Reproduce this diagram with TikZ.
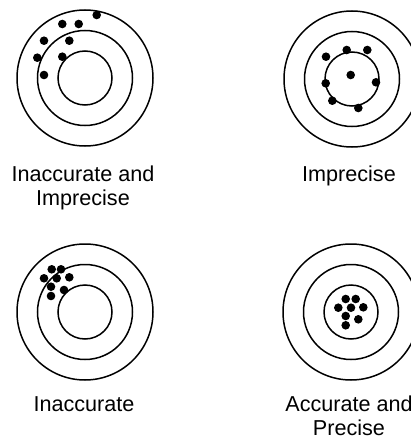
\documentclass[tikz,border=0pt]{standalone}
\usepackage{fontspec}
\setmainfont{Liberation Sans}
\begin{document}
\begin{tikzpicture}[x=1pt,y=-1pt,
  ring/.style={line width=1.5pt},
  hole/.style={fill=black},
  lbl/.style={align=center,anchor=base,inner sep=0pt,font=\fontsize{21.6}{24}\selectfont}]
\useasboundingbox (0,0) rectangle (410,441);
% targets
\foreach \cx/\cy in {85/78, 352/79, 85/312, 351/312}{
  \draw[ring] (\cx,\cy) circle (27);
  \draw[ring] (\cx,\cy) circle (47.5);
  \draw[ring] (\cx,\cy) circle (68);
}
% top-left: inaccurate and imprecise
\foreach \p in {(96.7,15),(62.3,24),(78.7,24),(44,40.7),(69.3,40.7),(37.3,57.7),(62.3,56.7),(44,75)}
  \fill[hole] \p circle (4.3);
% top-right: imprecise
\foreach \p in {(326,56.7),(346.7,50),(367.3,50),(350.7,75),(325.7,83.3),(376,82.3),(332.3,100.7),(358.3,108)}
  \fill[hole] \p circle (4.3);
% bottom-left: inaccurate
\foreach \p in {(51.7,269.3),(61,269.3),(44,278.3),(56.7,278.3),(69.3,277.3),(51,286.7),(64,290),(51,296)}
  \fill[hole] \p circle (4.3);
% bottom-right: accurate and precise
\foreach \p in {(345.7,299),(355.7,299),(338.3,307.7),(351,307.7),(363.3,307.3),(345.7,316),(358.3,319.3),(345.7,325.3)}
  \fill[hole] \p circle (4.3);
% labels (base anchor = last line's baseline)
\node[lbl] (l1) at (83,205.7) {Inaccurate and\\Imprecise};
\node[lbl] (l2) at (349,181.7) {Imprecise};
\node[lbl] (l3) at (84,411) {Inaccurate};
\node[lbl] (l4) at (349,435) {Accurate and\\Precise};
\end{tikzpicture}
\end{document}
